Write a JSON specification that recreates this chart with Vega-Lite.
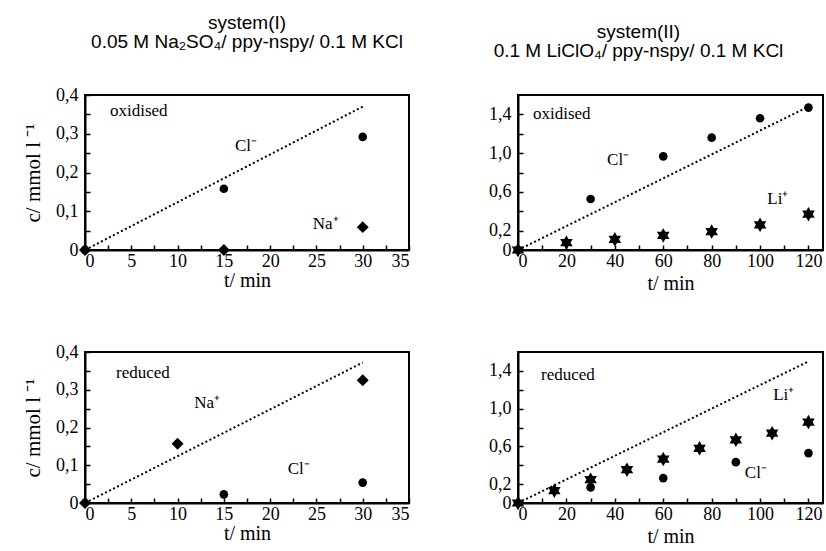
{
  "$schema": "https://vega.github.io/schema/vega-lite/v6.json",
  "background": "white",
  "padding": {"left": 21, "top": 13, "right": 0, "bottom": 0},
  "config": {
    "font": "Liberation Serif",
    "view": {"stroke": "black", "strokeWidth": 2},
    "axis": {
      "grid": false,
      "domainColor": "black",
      "domainWidth": 2,
      "tickColor": "black",
      "tickWidth": 1.5,
      "tickSize": -5,
      "tickCount": 100,
      "labelColor": "black",
      "labelFont": "Liberation Serif",
      "labelFontSize": 18,
      "labelOverlap": false,
      "titleFont": "Liberation Serif",
      "titleFontSize": 20,
      "titleFontWeight": "normal",
      "titleColor": "black"
    },
    "title": {"font": "Liberation Sans", "fontSize": 19, "fontWeight": "normal", "color": "black", "lineHeight": 19, "offset": 34}
  },
  "spacing": 48,
  "vconcat": [
    {
      "spacing": 76,
      "hconcat": [
        {
          "width": 324,
          "height": 155,
          "title": {"text": ["system(I)", "0.05 M Na₂SO₄/ ppy-nspy/ 0.1 M KCl"], "font": "Liberation Sans", "fontSize": 19, "fontWeight": "normal"},
          "layer": [
            {
              "data": {"values": [{"t": 0, "c": 0}, {"t": 30, "c": 0.37}]},
              "mark": {"type": "line", "color": "black", "strokeDash": [2, 2.5], "strokeWidth": 2},
              "encoding": {
                "x": {"field": "t", "type": "quantitative", "scale": {"domain": [0, 35], "nice": false, "zero": false},
                  "axis": {"title": "t/ min", "titlePadding": 0, "labelPadding": 7, "tickCount": 100, "values": [0, 2.5, 5, 7.5, 10, 12.5, 15, 17.5, 20, 22.5, 25, 27.5, 30, 32.5, 35], "labelExpr": "datum.value % 5 == 0 ? format(datum.value, 'd') : ''"}},
                "y": {"field": "c", "type": "quantitative", "scale": {"domain": [0, 0.4], "nice": false, "zero": false},
                  "axis": {"title": "c/ mmol l ⁻¹", "titleFontSize": 21, "titlePadding": 12, "labelPadding": 12, "tickCount": 100, "values": [0, 0.05, 0.1, 0.15, 0.2, 0.25, 0.3, 0.35, 0.4], "labelExpr": "datum.value == 0 ? '0' : (abs(datum.value * 10 - round(datum.value * 10)) < 0.001 ? replace(format(datum.value, '.1f'), '.', ',') : '')"}}
              }
            },
            {
              "data": {"values": [
                {"t": 0, "c": 0, "ion": "Cl-"},
                {"t": 15, "c": 0.158, "ion": "Cl-"},
                {"t": 30, "c": 0.292, "ion": "Cl-"},
                {"t": 0, "c": 0, "ion": "Na+"},
                {"t": 15, "c": 0, "ion": "Na+"},
                {"t": 30, "c": 0.059, "ion": "Na+"}
              ]},
              "mark": {"type": "point", "filled": true, "color": "black", "opacity": 1},
              "encoding": {
                "x": {"field": "t", "type": "quantitative"},
                "y": {"field": "c", "type": "quantitative"},
                "shape": {"field": "ion", "type": "nominal", "scale": {"domain": ["Cl-", "Na+", "Li+"], "range": ["circle", "diamond", "M0,-1L0.289,-0.5L0.866,-0.5L0.577,0L0.866,0.5L0.289,0.5L0,1L-0.289,0.5L-0.866,0.5L-0.577,0L-0.866,-0.5L-0.289,-0.5Z"]}, "legend": null},
                "size": {"field": "ion", "type": "nominal", "scale": {"domain": ["Cl-", "Na+", "Li+"], "range": [75, 210, 230]}, "legend": null}
              }
            },
            {
              "data": {"values": [
                {"t": 2.7, "c": 0.359, "label": "oxidised"},
                {"t": 16.2, "c": 0.268, "label": "Cl⁻"},
                {"t": 24.6, "c": 0.067, "label": "Na⁺"}
              ]},
              "mark": {"type": "text", "align": "left", "baseline": "middle", "font": "Liberation Serif", "fontSize": 17, "color": "black"},
              "encoding": {
                "x": {"field": "t", "type": "quantitative"},
                "y": {"field": "c", "type": "quantitative"},
                "text": {"field": "label"}
              }
            }
          ]
        },
        {
          "width": 305,
          "height": 155,
          "title": {"text": ["system(II)", "0.1 M LiClO₄/ ppy-nspy/ 0.1 M KCl"], "dx": -32, "font": "Liberation Sans", "fontSize": 19, "fontWeight": "normal"},
          "layer": [
            {
              "data": {"values": [{"t": 0, "c": 0}, {"t": 120, "c": 1.48}]},
              "mark": {"type": "line", "color": "black", "strokeDash": [2, 2.5], "strokeWidth": 2},
              "encoding": {
                "x": {"field": "t", "type": "quantitative", "scale": {"domain": [0, 126], "nice": false, "zero": false},
                  "axis": {"title": "t/ min", "titlePadding": 3, "labelPadding": 7, "tickCount": 100, "values": [0, 10, 20, 30, 40, 50, 60, 70, 80, 90, 100, 110, 120], "labelExpr": "datum.value % 20 == 0 ? format(datum.value, 'd') : ''"}},
                "y": {"field": "c", "type": "quantitative", "scale": {"domain": [0, 1.6], "nice": false, "zero": false},
                  "axis": {"title": null, "labelPadding": 12, "tickCount": 100, "values": [0, 0.2, 0.4, 0.6, 0.8, 1.0, 1.2, 1.4], "labelExpr": "datum.value == 0 ? '0' : (round(datum.value * 10) % 4 == 2 ? replace(format(datum.value, '.1f'), '.', ',') : '')"}}
              }
            },
            {
              "data": {"values": [
                {"t": 0, "c": 0, "ion": "Cl-"},
                {"t": 30, "c": 0.526, "ion": "Cl-"},
                {"t": 60, "c": 0.967, "ion": "Cl-"},
                {"t": 80, "c": 1.16, "ion": "Cl-"},
                {"t": 100, "c": 1.36, "ion": "Cl-"},
                {"t": 120, "c": 1.47, "ion": "Cl-"},
                {"t": 0, "c": 0, "ion": "Li+"},
                {"t": 20, "c": 0.075, "ion": "Li+"},
                {"t": 40, "c": 0.11, "ion": "Li+"},
                {"t": 60, "c": 0.15, "ion": "Li+"},
                {"t": 80, "c": 0.19, "ion": "Li+"},
                {"t": 100, "c": 0.26, "ion": "Li+"},
                {"t": 120, "c": 0.37, "ion": "Li+"}
              ]},
              "mark": {"type": "point", "filled": true, "color": "black", "opacity": 1},
              "encoding": {
                "x": {"field": "t", "type": "quantitative"},
                "y": {"field": "c", "type": "quantitative"},
                "shape": {"field": "ion", "type": "nominal", "scale": {"domain": ["Cl-", "Na+", "Li+"], "range": ["circle", "diamond", "M0,-1L0.289,-0.5L0.866,-0.5L0.577,0L0.866,0.5L0.289,0.5L0,1L-0.289,0.5L-0.866,0.5L-0.577,0L-0.866,-0.5L-0.289,-0.5Z"]}, "legend": null},
                "size": {"field": "ion", "type": "nominal", "scale": {"domain": ["Cl-", "Na+", "Li+"], "range": [75, 210, 230]}, "legend": null}
              }
            },
            {
              "data": {"values": [
                {"t": 6.2, "c": 1.40, "label": "oxidised"},
                {"t": 36.8, "c": 0.925, "label": "Cl⁻"},
                {"t": 103, "c": 0.53, "label": "Li⁺"}
              ]},
              "mark": {"type": "text", "align": "left", "baseline": "middle", "font": "Liberation Serif", "fontSize": 17, "color": "black"},
              "encoding": {
                "x": {"field": "t", "type": "quantitative"},
                "y": {"field": "c", "type": "quantitative"},
                "text": {"field": "label"}
              }
            }
          ]
        }
      ]
    },
    {
      "spacing": 76,
      "hconcat": [
        {
          "width": 324,
          "height": 151,
          "layer": [
            {
              "data": {"values": [{"t": 0, "c": 0}, {"t": 30, "c": 0.372}]},
              "mark": {"type": "line", "color": "black", "strokeDash": [2, 2.5], "strokeWidth": 2},
              "encoding": {
                "x": {"field": "t", "type": "quantitative", "scale": {"domain": [0, 35], "nice": false, "zero": false},
                  "axis": {"title": "t/ min", "titlePadding": 0, "labelPadding": 7, "tickCount": 100, "values": [0, 2.5, 5, 7.5, 10, 12.5, 15, 17.5, 20, 22.5, 25, 27.5, 30, 32.5, 35], "labelExpr": "datum.value % 5 == 0 ? format(datum.value, 'd') : ''"}},
                "y": {"field": "c", "type": "quantitative", "scale": {"domain": [0, 0.4], "nice": false, "zero": false},
                  "axis": {"title": "c/ mmol l ⁻¹", "titleFontSize": 21, "titlePadding": 12, "labelPadding": 12, "tickCount": 100, "values": [0, 0.05, 0.1, 0.15, 0.2, 0.25, 0.3, 0.35, 0.4], "labelExpr": "datum.value == 0 ? '0' : (abs(datum.value * 10 - round(datum.value * 10)) < 0.001 ? replace(format(datum.value, '.1f'), '.', ',') : '')"}}
              }
            },
            {
              "data": {"values": [
                {"t": 15, "c": 0.023, "ion": "Cl-"},
                {"t": 30, "c": 0.054, "ion": "Cl-"},
                {"t": 0, "c": 0, "ion": "Na+"},
                {"t": 10, "c": 0.157, "ion": "Na+"},
                {"t": 30, "c": 0.325, "ion": "Na+"}
              ]},
              "mark": {"type": "point", "filled": true, "color": "black", "opacity": 1},
              "encoding": {
                "x": {"field": "t", "type": "quantitative"},
                "y": {"field": "c", "type": "quantitative"},
                "shape": {"field": "ion", "type": "nominal", "scale": {"domain": ["Cl-", "Na+", "Li+"], "range": ["circle", "diamond", "M0,-1L0.289,-0.5L0.866,-0.5L0.577,0L0.866,0.5L0.289,0.5L0,1L-0.289,0.5L-0.866,0.5L-0.577,0L-0.866,-0.5L-0.289,-0.5Z"]}, "legend": null},
                "size": {"field": "ion", "type": "nominal", "scale": {"domain": ["Cl-", "Na+", "Li+"], "range": [75, 210, 230]}, "legend": null}
              }
            },
            {
              "data": {"values": [
                {"t": 3.35, "c": 0.345, "label": "reduced"},
                {"t": 11.8, "c": 0.266, "label": "Na⁺"},
                {"t": 21.9, "c": 0.089, "label": "Cl⁻"}
              ]},
              "mark": {"type": "text", "align": "left", "baseline": "middle", "font": "Liberation Serif", "fontSize": 17, "color": "black"},
              "encoding": {
                "x": {"field": "t", "type": "quantitative"},
                "y": {"field": "c", "type": "quantitative"},
                "text": {"field": "label"}
              }
            }
          ]
        },
        {
          "width": 305,
          "height": 151,
          "layer": [
            {
              "data": {"values": [{"t": 0, "c": 0}, {"t": 120, "c": 1.5}]},
              "mark": {"type": "line", "color": "black", "strokeDash": [2, 2.5], "strokeWidth": 2},
              "encoding": {
                "x": {"field": "t", "type": "quantitative", "scale": {"domain": [0, 126], "nice": false, "zero": false},
                  "axis": {"title": "t/ min", "titlePadding": 3, "labelPadding": 7, "tickCount": 100, "values": [0, 10, 20, 30, 40, 50, 60, 70, 80, 90, 100, 110, 120], "labelExpr": "datum.value % 20 == 0 ? format(datum.value, 'd') : ''"}},
                "y": {"field": "c", "type": "quantitative", "scale": {"domain": [0, 1.6], "nice": false, "zero": false},
                  "axis": {"title": null, "labelPadding": 12, "tickCount": 100, "values": [0, 0.2, 0.4, 0.6, 0.8, 1.0, 1.2, 1.4], "labelExpr": "datum.value == 0 ? '0' : (round(datum.value * 10) % 4 == 2 ? replace(format(datum.value, '.1f'), '.', ',') : '')"}}
              }
            },
            {
              "data": {"values": [
                {"t": 30, "c": 0.165, "ion": "Cl-"},
                {"t": 60, "c": 0.264, "ion": "Cl-"},
                {"t": 90, "c": 0.433, "ion": "Cl-"},
                {"t": 120, "c": 0.529, "ion": "Cl-"},
                {"t": 0, "c": 0, "ion": "Li+"},
                {"t": 15, "c": 0.13, "ion": "Li+"},
                {"t": 30, "c": 0.247, "ion": "Li+"},
                {"t": 45, "c": 0.353, "ion": "Li+"},
                {"t": 60, "c": 0.465, "ion": "Li+"},
                {"t": 75, "c": 0.58, "ion": "Li+"},
                {"t": 90, "c": 0.67, "ion": "Li+"},
                {"t": 105, "c": 0.74, "ion": "Li+"},
                {"t": 120, "c": 0.857, "ion": "Li+"}
              ]},
              "mark": {"type": "point", "filled": true, "color": "black", "opacity": 1},
              "encoding": {
                "x": {"field": "t", "type": "quantitative"},
                "y": {"field": "c", "type": "quantitative"},
                "shape": {"field": "ion", "type": "nominal", "scale": {"domain": ["Cl-", "Na+", "Li+"], "range": ["circle", "diamond", "M0,-1L0.289,-0.5L0.866,-0.5L0.577,0L0.866,0.5L0.289,0.5L0,1L-0.289,0.5L-0.866,0.5L-0.577,0L-0.866,-0.5L-0.289,-0.5Z"]}, "legend": null},
                "size": {"field": "ion", "type": "nominal", "scale": {"domain": ["Cl-", "Na+", "Li+"], "range": [75, 210, 230]}, "legend": null}
              }
            },
            {
              "data": {"values": [
                {"t": 9.5, "c": 1.36, "label": "reduced"},
                {"t": 105.4, "c": 1.14, "label": "Li⁺"},
                {"t": 93.7, "c": 0.317, "label": "Cl⁻"}
              ]},
              "mark": {"type": "text", "align": "left", "baseline": "middle", "font": "Liberation Serif", "fontSize": 17, "color": "black"},
              "encoding": {
                "x": {"field": "t", "type": "quantitative"},
                "y": {"field": "c", "type": "quantitative"},
                "text": {"field": "label"}
              }
            }
          ]
        }
      ]
    }
  ]
}
